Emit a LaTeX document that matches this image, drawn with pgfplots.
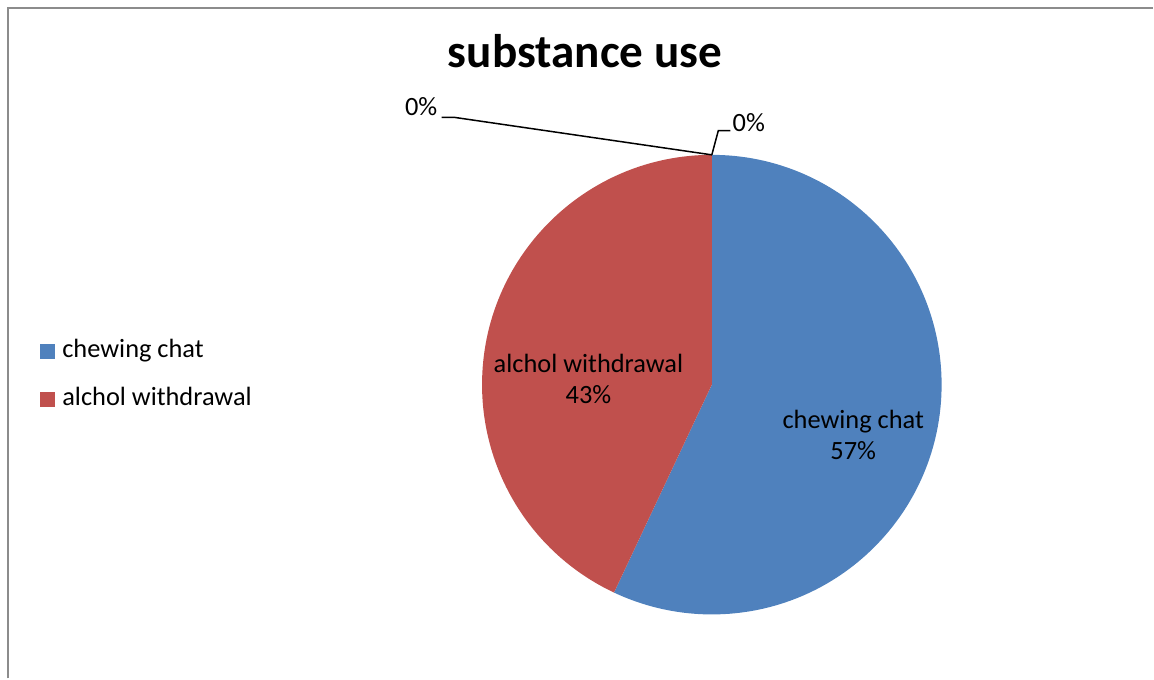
\documentclass[border=0pt]{standalone}
\usepackage{pgfplots}
\pgfplotsset{compat=1.18}
\usepackage{pgfplotstable}
\usepackage{fontspec}
\setmainfont{Carlito}
\definecolor{pieblue}{HTML}{4F81BD}
\definecolor{piered}{HTML}{C0504D}
\definecolor{framegray}{HTML}{8C8C8C}
\pgfplotstableread{
idx value
0 57
1 43
2 0
3 0
}\piedata
\begin{document}
\begin{tikzpicture}
\pgfplotstablegetelem{0}{value}\of\piedata \let\valA\pgfplotsretval
\pgfplotstablegetelem{1}{value}\of\piedata \let\valB\pgfplotsretval
\pgfmathsetmacro{\total}{\valA+\valB}
\pgfmathsetmacro{\fracA}{\valA/\total}
\pgfmathsetmacro{\angA}{90-360*\fracA}
\pgfmathsetmacro{\angB}{\angA+360}
\begin{axis}[hide axis, scale only axis, width=577pt, height=339.5pt,
  xmin=0, xmax=1154, ymin=0, ymax=679, y dir=reverse, clip=false]
\path (axis cs:0,0) rectangle (axis cs:1154,679);
% frame
\draw[line width=1.1pt, framegray] (axis cs:8,679) -- (axis cs:8,8) -- (axis cs:1154,8);
% pie
\fill[pieblue] (axis cs:712.5,385) -- (axis cs:712.5,155) arc[start angle=90, end angle=\angA, radius=115pt] -- cycle;
\fill[piered] (axis cs:712.5,385) -- (axis cs:712.5,155) arc[start angle=90, end angle=\angB, radius=115pt] -- cycle;
% title
\node[anchor=base, inner sep=0, font=\fontsize{23.6}{28}\selectfont\bfseries] at (axis cs:585.5,68) {substance use};
% slice labels
\node[anchor=base, inner sep=0, font=\fontsize{13.2}{16}\selectfont] at (axis cs:854,429) {chewing chat};
\node[anchor=base, inner sep=0, font=\fontsize{13.2}{16}\selectfont] at (axis cs:854,460) {57\%};
\node[anchor=base, inner sep=0, font=\fontsize{13.2}{16}\selectfont] at (axis cs:589,372.5) {alchol withdrawal};
\node[anchor=base, inner sep=0, font=\fontsize{13.2}{16}\selectfont] at (axis cs:589,404) {43\%};
% zero labels with leaders
\draw[line width=0.75pt, black] (axis cs:442,117.5) -- (axis cs:455,117.5) -- (axis cs:712.5,155);
\node[anchor=base west, inner sep=0, font=\fontsize{13.2}{16}\selectfont] at (axis cs:405,115.7) {0\%};
\draw[line width=0.75pt, black] (axis cs:712.5,155) -- (axis cs:719,130.7) -- (axis cs:731,130.7);
\node[anchor=base west, inner sep=0, font=\fontsize{13.2}{16}\selectfont] at (axis cs:733,131.7) {0\%};
% legend
\fill[pieblue] (axis cs:40,344) rectangle (axis cs:55,359);
\fill[piered] (axis cs:40,392) rectangle (axis cs:55,407);
\node[anchor=base west, inner sep=0, font=\fontsize{13.2}{16}\selectfont] at (axis cs:62,358) {chewing chat};
\node[anchor=base west, inner sep=0, font=\fontsize{13.2}{16}\selectfont] at (axis cs:62,406) {alchol withdrawal};
\end{axis}
\end{tikzpicture}
\end{document}
